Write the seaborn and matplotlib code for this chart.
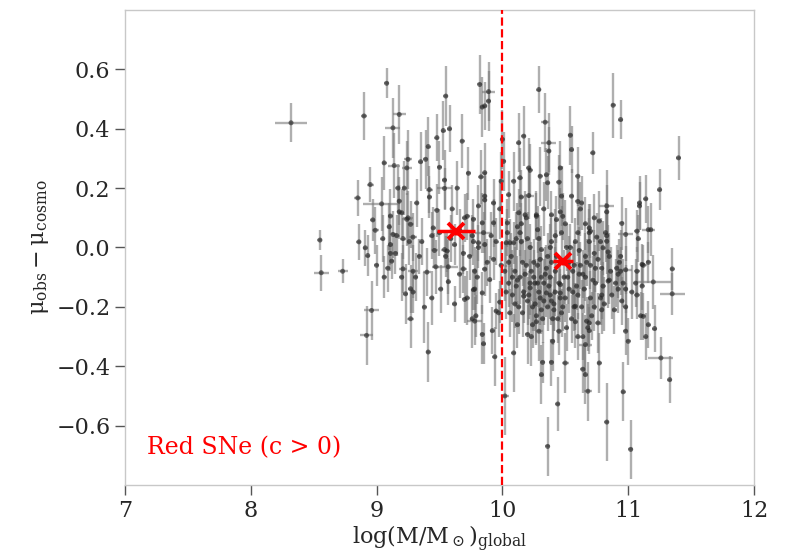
import matplotlib
matplotlib.use("Agg")
import matplotlib.pyplot as plt
import seaborn as sns

# ---- data ----
mass = [
    8.32, 8.55, 8.56, 8.73, 8.85, 8.90, 8.86, 8.91, 8.93, 8.95,
    8.96, 8.92, 8.97, 8.99, 9.04, 9.06, 9.08, 9.11, 9.11, 9.11,
    9.12, 9.13, 9.13, 9.14, 9.16, 9.18, 9.18, 9.20, 9.21, 9.21,
    9.24, 9.24, 9.25, 9.25, 9.27, 9.29, 9.29, 9.23, 9.27, 9.29,
    9.27, 9.34, 9.35, 9.38, 9.39, 9.41, 9.41, 9.40, 9.42, 9.42,
    9.44, 9.45, 9.46, 9.47, 9.48, 9.48, 9.53, 9.55, 9.54, 9.54,
    9.54, 9.55, 9.57, 9.57, 9.58, 9.62, 9.62, 9.56, 9.66, 9.68,
    9.69, 9.69, 9.70, 9.72, 9.73, 9.72, 9.70, 9.77, 9.76, 9.77,
    9.78, 9.78, 9.78, 9.76, 9.79, 9.77, 9.81, 9.81, 9.81, 9.82,
    9.83, 9.84, 9.84, 9.84, 9.84, 9.85, 9.85, 9.86, 9.86, 9.86,
    9.86, 9.86, 9.86, 9.89, 9.89, 9.90, 9.93, 9.93, 9.93, 9.94,
    9.95, 9.97, 9.98, 9.99, 9.99, 10.00, 10.02,
    10.03, 10.04, 10.04, 10.05, 10.06, 10.09, 10.09, 10.09, 10.10, 10.11,
    10.13, 10.13, 10.14, 10.14, 10.15, 10.15, 10.17, 10.17, 10.17, 10.18,
    10.19, 10.20, 10.20, 10.21, 10.21, 10.22, 10.22, 10.22, 10.22, 10.23,
    10.25, 10.25, 10.26, 10.27, 10.27, 10.27, 10.27, 10.29, 10.29, 10.29,
    10.29, 10.30, 10.30, 10.31, 10.31, 10.31, 10.31, 10.32, 10.33, 10.33,
    10.34, 10.35, 10.35, 10.35, 10.36, 10.36, 10.37, 10.37, 10.38, 10.38,
    10.38, 10.39, 10.39, 10.39, 10.39, 10.39, 10.40, 10.41, 10.41, 10.43,
    10.44, 10.45, 10.45, 10.45, 10.46, 10.46, 10.46, 10.46, 10.46, 10.47,
    10.47, 10.47, 10.48, 10.50, 10.50, 10.51, 10.52, 10.54, 10.54, 10.55,
    10.55, 10.55, 10.56, 10.57, 10.58, 10.59, 10.60, 10.60, 10.60, 10.60,
    10.60, 10.61, 10.62, 10.63, 10.64, 10.64, 10.64, 10.66, 10.66, 10.66,
    10.66, 10.67, 10.68, 10.68, 10.69, 10.69, 10.69, 10.69, 10.69, 10.70,
    10.70, 10.72, 10.73, 10.74, 10.75, 10.76, 10.77, 10.77, 10.78, 10.78,
    10.79, 10.79, 10.79, 10.80, 10.80, 10.82, 10.83, 10.83, 10.83, 10.83,
    10.83, 10.84, 10.84, 10.85, 10.85, 10.87, 10.88, 10.89, 10.91, 10.92,
    10.92, 10.93, 10.94, 10.94, 10.94, 10.95, 10.95, 10.96, 10.96, 10.98,
    10.98, 10.98, 10.98, 10.98, 11.00, 11.02, 11.03, 11.06, 11.07, 11.07,
    11.07, 11.08, 11.09, 11.09, 11.10, 11.11, 11.11, 11.12, 11.12, 11.14,
    11.14, 11.16, 11.16, 11.16, 11.18, 11.20, 11.21, 11.25, 11.26, 11.33,
    11.35, 11.35, 11.40,
    10.02, 10.05, 10.07, 10.08, 10.12, 10.13, 10.16, 10.18, 10.24, 10.28,
    10.33, 10.36, 10.42, 10.44, 10.53, 10.57, 10.62, 10.72, 10.73, 10.06,
    10.12, 10.15, 10.01, 9.98, 9.95, 9.92,
    9.00, 9.06, 9.09, 9.15, 9.17, 9.32, 9.36, 9.50, 9.64, 9.60,
    9.66, 9.51,
    10.03, 10.05, 10.08, 10.10, 10.11, 10.14, 10.16, 10.19, 10.21, 10.23,
    10.24, 10.26, 10.28, 10.30, 10.32, 10.34, 10.36, 10.37, 10.40, 10.42,
    10.43, 10.48, 10.49, 10.51, 10.53, 10.56, 10.58, 10.61, 10.63, 10.65,
    10.67, 10.70, 10.71, 10.74, 10.76, 10.81, 10.86, 10.90, 10.12, 10.20,
    10.28, 10.42, 10.50, 10.58, 10.66, 10.73, 9.20, 9.26, 9.18, 9.10,
    9.05, 9.22, 9.31, 9.44, 9.50, 9.59, 9.74, 9.80, 9.88, 9.91,
]
resid = [
    0.420, 0.025, -0.085, -0.080, 0.167, 0.443, 0.019, -0.001, -0.027, 0.212,
    -0.212, -0.296, 0.093, 0.058, 0.147, 0.285, 0.553, 0.106, 0.010, -0.020,
    -0.046, 0.403, 0.044, 0.276, 0.040, 0.448, 0.156, 0.117, 0.030, -0.072,
    0.095, 0.268, 0.297, 0.100, 0.078, 0.035, -0.080, -0.156, -0.139, -0.150,
    -0.240, -0.030, 0.289, -0.201, 0.297, 0.340, -0.352, -0.083, 0.195, 0.170,
    0.040, 0.066, -0.010, -0.065, 0.370, 0.125, 0.394, 0.510, 0.227, 0.199,
    -0.007, -0.030, -0.065, -0.115, 0.400, -0.190, 0.010, -0.012, -0.090, 0.358,
    -0.072, -0.020, -0.175, -0.170, 0.250, 0.105, 0.100, 0.095, 0.040, 0.020,
    -0.080, -0.140, -0.248, -0.240, -0.230, -0.142, 0.140, 0.016, 0.000, 0.549,
    0.238, 0.473, 0.083, -0.153, -0.293, 0.050, -0.324, 0.477, 0.252, 0.173,
    0.160, 0.010, -0.073, 0.525, 0.493, -0.108, 0.150, 0.083, -0.040, -0.368,
    -0.214, -0.220, -0.184, 0.223, -0.060, 0.364, -0.500,
    0.016, 0.083, 0.050, 0.178, 0.016, 0.223, 0.016, -0.355, -0.080, 0.030,
    0.353, 0.117, 0.235, 0.050, 0.080, 0.020, 0.375, -0.150, -0.164, 0.110,
    0.100, -0.180, -0.293, 0.268, 0.175, 0.260, 0.000, -0.120, -0.136, -0.300,
    -0.050, -0.100, -0.120, 0.110, 0.105, -0.230, -0.250, 0.532, 0.030, -0.150,
    -0.282, 0.240, -0.040, -0.007, -0.100, -0.210, -0.428, -0.387, 0.130, -0.180,
    0.422, 0.245, -0.070, -0.153, 0.218, -0.670, 0.353, 0.325, 0.000, -0.100,
    -0.160, 0.110, 0.020, -0.050, -0.180, -0.387, -0.316, -0.190, -0.210, 0.094,
    -0.527, 0.220, -0.120, -0.282, 0.268, 0.120, -0.125, -0.153, -0.170, 0.173,
    0.050, -0.220, 0.105, -0.170, -0.389, 0.000, -0.100, 0.378, 0.000, 0.330,
    0.173, -0.240, -0.080, -0.060, -0.198, -0.130, 0.240, 0.155, 0.050, -0.160,
    -0.300, -0.010, 0.130, 0.150, -0.090, -0.300, -0.410, -0.030, -0.100, -0.327,
    -0.428, -0.248, -0.270, -0.484, 0.066, 0.020, 0.050, -0.254, -0.280, 0.055,
    -0.060, 0.319, -0.020, -0.070, 0.035, -0.254, 0.089, -0.389, 0.020, -0.170,
    -0.070, -0.160, -0.210, -0.001, -0.130, 0.050, 0.140, 0.021, 0.040, 0.120,
    -0.588, -0.015, -0.113, -0.110, -0.030, -0.160, 0.479, -0.210, -0.070, -0.090,
    -0.140, -0.050, 0.431, -0.030, -0.080, 0.081, -0.180, -0.120, -0.486, 0.044,
    -0.075, -0.140, -0.200, -0.282, -0.316, -0.680, -0.150, -0.120, 0.055, -0.080,
    -0.160, 0.030, 0.150, 0.140, -0.230, -0.057, -0.130, -0.060, -0.232, 0.164,
    -0.300, 0.060, -0.050, -0.260, 0.060, -0.116, -0.273, 0.195, -0.372, -0.445,
    -0.072, -0.156, 0.302,
    -0.080, -0.120, -0.030, -0.160, -0.110, -0.200, -0.050, -0.090, -0.200, -0.060,
    -0.120, -0.030, -0.080, -0.240, -0.140, -0.200, -0.060, -0.110, -0.200, -0.220,
    -0.260, 0.170, 0.290, 0.130, 0.020, -0.280,
    -0.060, -0.100, -0.070, -0.020, 0.200, 0.150, 0.020, 0.270, 0.200, 0.130,
    0.060, -0.140,
    -0.150, -0.050, -0.100, -0.190, -0.130, -0.100, -0.220, -0.060, -0.160, -0.080,
    -0.260, -0.190, -0.120, -0.170, -0.240, -0.090, -0.200, -0.130, -0.240, -0.150,
    -0.030, -0.200, -0.100, -0.270, -0.050, -0.150, -0.250, -0.090, -0.200, -0.140,
    -0.050, -0.170, -0.230, -0.120, -0.040, -0.190, -0.080, -0.120, 0.070, 0.030,
    0.060, 0.040, 0.080, 0.020, 0.080, 0.100, -0.100, 0.020, 0.120, 0.070,
    0.030, 0.200, -0.100, -0.170, 0.050, 0.030, -0.030, -0.100, -0.050, 0.040,
]
resid_err = [
    0.065, 0.035, 0.060, 0.040, 0.060, 0.080, 0.060, 0.060, 0.070, 0.060,
    0.100, 0.100, 0.070, 0.080, 0.090, 0.090, 0.050, 0.090, 0.070, 0.060,
    0.060, 0.100, 0.080, 0.110, 0.070, 0.100, 0.080, 0.080, 0.070, 0.080,
    0.090, 0.090, 0.100, 0.090, 0.080, 0.080, 0.090, 0.100, 0.080, 0.070,
    0.100, 0.060, 0.100, 0.120, 0.100, 0.100, 0.100, 0.080, 0.080, 0.070,
    0.080, 0.070, 0.060, 0.090, 0.080, 0.090, 0.100, 0.100, 0.100, 0.070,
    0.060, 0.070, 0.090, 0.080, 0.080, 0.060, 0.070, 0.070, 0.080, 0.090,
    0.080, 0.070, 0.080, 0.090, 0.090, 0.080, 0.080, 0.070, 0.070, 0.080,
    0.080, 0.070, 0.080, 0.100, 0.070, 0.070, 0.070, 0.060, 0.070, 0.100,
    0.090, 0.100, 0.100, 0.070, 0.100, 0.070, 0.070, 0.080, 0.100, 0.080,
    0.080, 0.070, 0.090, 0.100, 0.100, 0.080, 0.080, 0.080, 0.070, 0.100,
    0.060, 0.080, 0.070, 0.100, 0.080, 0.100, 0.130,
    0.080, 0.080, 0.080, 0.080, 0.080, 0.100, 0.070, 0.130, 0.080, 0.090,
    0.100, 0.080, 0.100, 0.080, 0.070, 0.070, 0.100, 0.070, 0.090, 0.080,
    0.080, 0.080, 0.100, 0.100, 0.080, 0.090, 0.080, 0.080, 0.090, 0.100,
    0.080, 0.090, 0.080, 0.080, 0.080, 0.090, 0.080, 0.080, 0.080, 0.080,
    0.100, 0.100, 0.080, 0.080, 0.080, 0.080, 0.100, 0.070, 0.090, 0.080,
    0.100, 0.090, 0.080, 0.080, 0.090, 0.100, 0.100, 0.080, 0.080, 0.080,
    0.080, 0.080, 0.080, 0.080, 0.080, 0.080, 0.100, 0.090, 0.070, 0.080,
    0.090, 0.090, 0.080, 0.080, 0.090, 0.080, 0.080, 0.080, 0.080, 0.100,
    0.090, 0.080, 0.080, 0.080, 0.100, 0.080, 0.090, 0.100, 0.080, 0.080,
    0.090, 0.080, 0.080, 0.080, 0.080, 0.080, 0.100, 0.080, 0.080, 0.080,
    0.080, 0.080, 0.090, 0.090, 0.080, 0.080, 0.080, 0.080, 0.080, 0.100,
    0.100, 0.080, 0.080, 0.100, 0.080, 0.080, 0.080, 0.080, 0.080, 0.090,
    0.080, 0.070, 0.080, 0.080, 0.080, 0.100, 0.100, 0.100, 0.080, 0.090,
    0.080, 0.080, 0.080, 0.090, 0.080, 0.100, 0.120, 0.110, 0.080, 0.090,
    0.130, 0.090, 0.090, 0.080, 0.080, 0.080, 0.110, 0.080, 0.080, 0.080,
    0.080, 0.080, 0.065, 0.090, 0.080, 0.090, 0.080, 0.080, 0.100, 0.090,
    0.080, 0.080, 0.080, 0.080, 0.080, 0.100, 0.090, 0.080, 0.070, 0.080,
    0.080, 0.080, 0.090, 0.080, 0.080, 0.070, 0.080, 0.070, 0.080, 0.080,
    0.080, 0.080, 0.070, 0.080, 0.090, 0.090, 0.080, 0.070, 0.070, 0.080,
    0.070, 0.070, 0.075,
    0.100, 0.080, 0.080, 0.090, 0.080, 0.090, 0.080, 0.080, 0.080, 0.080,
    0.080, 0.080, 0.080, 0.080, 0.080, 0.080, 0.080, 0.080, 0.080, 0.080,
    0.080, 0.090, 0.100, 0.100, 0.080, 0.080,
    0.070, 0.070, 0.080, 0.070, 0.080, 0.080, 0.080, 0.090, 0.090, 0.080,
    0.070, 0.080,
    0.090, 0.080, 0.090, 0.080, 0.070, 0.090, 0.080, 0.090, 0.080, 0.100,
    0.080, 0.090, 0.080, 0.090, 0.080, 0.090, 0.080, 0.070, 0.090, 0.080,
    0.090, 0.080, 0.090, 0.080, 0.090, 0.080, 0.090, 0.080, 0.090, 0.080,
    0.080, 0.090, 0.080, 0.090, 0.080, 0.090, 0.080, 0.080, 0.080, 0.090,
    0.080, 0.090, 0.080, 0.080, 0.090, 0.080, 0.080, 0.080, 0.090, 0.080,
    0.080, 0.090, 0.080, 0.090, 0.080, 0.080, 0.080, 0.090, 0.080, 0.080,
]
mass_err = [
    0.13, 0.02, 0.06, 0.04, 0.03, 0.02, 0.02, 0.02, 0.02, 0.03,
    0.06, 0.05, 0.02, 0.03, 0.15, 0.02, 0.02, 0.02, 0.02, 0.02,
    0.02, 0.06, 0.03, 0.05, 0.03, 0.05, 0.02, 0.02, 0.02, 0.03,
    0.04, 0.04, 0.03, 0.04, 0.03, 0.03, 0.04, 0.02, 0.02, 0.02,
    0.03, 0.02, 0.02, 0.02, 0.02, 0.02, 0.02, 0.03, 0.03, 0.02,
    0.02, 0.02, 0.03, 0.03, 0.02, 0.02, 0.02, 0.02, 0.02, 0.06,
    0.03, 0.02, 0.08, 0.02, 0.02, 0.02, 0.02, 0.02, 0.02, 0.02,
    0.03, 0.02, 0.02, 0.02, 0.02, 0.02, 0.02, 0.02, 0.02, 0.02,
    0.02, 0.02, 0.06, 0.02, 0.02, 0.02, 0.02, 0.02, 0.02, 0.02,
    0.02, 0.02, 0.02, 0.02, 0.02, 0.07, 0.02, 0.02, 0.02, 0.02,
    0.02, 0.02, 0.02, 0.05, 0.02, 0.02, 0.02, 0.02, 0.02, 0.02,
    0.02, 0.02, 0.02, 0.02, 0.02, 0.02, 0.03,
    0.02, 0.02, 0.02, 0.02, 0.02, 0.02, 0.02, 0.02, 0.02, 0.02,
    0.02, 0.02, 0.02, 0.02, 0.02, 0.02, 0.02, 0.02, 0.02, 0.02,
    0.02, 0.02, 0.02, 0.02, 0.04, 0.02, 0.02, 0.02, 0.02, 0.02,
    0.02, 0.02, 0.02, 0.02, 0.02, 0.02, 0.02, 0.02, 0.02, 0.02,
    0.03, 0.02, 0.02, 0.02, 0.02, 0.02, 0.02, 0.02, 0.02, 0.02,
    0.03, 0.02, 0.02, 0.02, 0.02, 0.02, 0.06, 0.02, 0.02, 0.02,
    0.02, 0.02, 0.02, 0.02, 0.02, 0.02, 0.02, 0.02, 0.02, 0.02,
    0.02, 0.02, 0.02, 0.02, 0.02, 0.02, 0.02, 0.02, 0.02, 0.02,
    0.02, 0.02, 0.02, 0.02, 0.03, 0.02, 0.02, 0.02, 0.02, 0.02,
    0.02, 0.02, 0.02, 0.02, 0.02, 0.02, 0.02, 0.02, 0.02, 0.02,
    0.02, 0.02, 0.02, 0.02, 0.02, 0.02, 0.02, 0.02, 0.02, 0.05,
    0.02, 0.02, 0.02, 0.03, 0.02, 0.02, 0.02, 0.02, 0.02, 0.02,
    0.02, 0.02, 0.02, 0.02, 0.02, 0.02, 0.02, 0.02, 0.02, 0.02,
    0.02, 0.02, 0.02, 0.02, 0.02, 0.02, 0.06, 0.02, 0.02, 0.02,
    0.02, 0.02, 0.02, 0.02, 0.02, 0.02, 0.02, 0.02, 0.02, 0.02,
    0.02, 0.02, 0.02, 0.02, 0.02, 0.02, 0.02, 0.02, 0.02, 0.06,
    0.05, 0.02, 0.02, 0.02, 0.02, 0.02, 0.02, 0.02, 0.02, 0.02,
    0.02, 0.02, 0.02, 0.02, 0.02, 0.02, 0.02, 0.03, 0.02, 0.02,
    0.02, 0.05, 0.02, 0.02, 0.02, 0.14, 0.02, 0.02, 0.10, 0.02,
    0.02, 0.10, 0.02,
    0.02, 0.02, 0.02, 0.02, 0.02, 0.02, 0.02, 0.02, 0.02, 0.02,
    0.02, 0.02, 0.02, 0.02, 0.02, 0.02, 0.02, 0.02, 0.02, 0.02,
    0.02, 0.02, 0.02, 0.02, 0.02, 0.02,
    0.02, 0.02, 0.02, 0.02, 0.02, 0.02, 0.02, 0.02, 0.02, 0.02,
    0.02, 0.02,
    0.02, 0.02, 0.02, 0.02, 0.02, 0.02, 0.02, 0.02, 0.02, 0.02,
    0.02, 0.02, 0.02, 0.02, 0.02, 0.02, 0.02, 0.02, 0.02, 0.02,
    0.02, 0.02, 0.02, 0.02, 0.02, 0.02, 0.02, 0.02, 0.02, 0.02,
    0.02, 0.02, 0.02, 0.02, 0.02, 0.02, 0.02, 0.02, 0.02, 0.02,
    0.02, 0.02, 0.02, 0.02, 0.02, 0.02, 0.02, 0.02, 0.02, 0.02,
    0.02, 0.02, 0.02, 0.02, 0.02, 0.02, 0.02, 0.02, 0.02, 0.02,
]

# binned means (red crosses)
bin_mass = [9.63, 10.48]
bin_resid = [0.055, -0.046]
bin_mass_err = [0.15, 0.08]
bin_resid_err = [0.012, 0.012]

mass_step = 10.0
label_text = "Red SNe (c > 0)"

# ---- style ----
sns.set_style("white")
plt.rcParams["font.family"] = ["DejaVu Serif"]
plt.rcParams["mathtext.fontset"] = "dejavuserif"

fig = plt.figure(figsize=(7.94, 5.54), dpi=100)
ax = fig.add_axes([0.1574, 0.1245, 0.7922, 0.8575])

ax.errorbar(mass, resid, xerr=mass_err, yerr=resid_err, fmt="none",
            ecolor="#7a7a7a", elinewidth=1.7, alpha=0.6, zorder=1)
sns.scatterplot(x=mass, y=resid, color="#202020", s=13, alpha=0.6,
                edgecolor="none", ax=ax, zorder=2)

ax.errorbar(bin_mass, bin_resid, xerr=bin_mass_err, yerr=bin_resid_err,
            fmt="x", color="red", ecolor="red", ms=11, mew=2.8,
            elinewidth=2.5, zorder=4)

ax.axvline(mass_step, color="red", ls="--", lw=1.6, zorder=3)

ax.text(0.035, 0.065, label_text, color="red", fontsize=17,
        transform=ax.transAxes)

ax.set_xlim(7, 12)
ax.set_ylim(-0.8, 0.8)
ax.set_xticks([7, 8, 9, 10, 11, 12])
ax.set_yticks([-0.6, -0.4, -0.2, 0.0, 0.2, 0.4, 0.6])
ax.set_yticklabels(["\u22120.6", "\u22120.4", "\u22120.2", "0.0", "0.2", "0.4", "0.6"])

ax.set_xlabel(r"$\mathrm{log(M/M_\odot)_{global}}$", fontsize=16, labelpad=2)
ax.set_ylabel(r"$\mathrm{\mu_{obs} - \mu_{cosmo}}$", fontsize=16, labelpad=4)

for s in ax.spines.values():
    s.set_color("#c8c8c8")
    s.set_linewidth(1.0)

ax.tick_params(axis="both", which="major", direction="out", length=7,
               width=1.0, color="#555555", labelsize=16,
               bottom=True, left=True, top=False, right=False)

fig.savefig("out.png", dpi=100)
